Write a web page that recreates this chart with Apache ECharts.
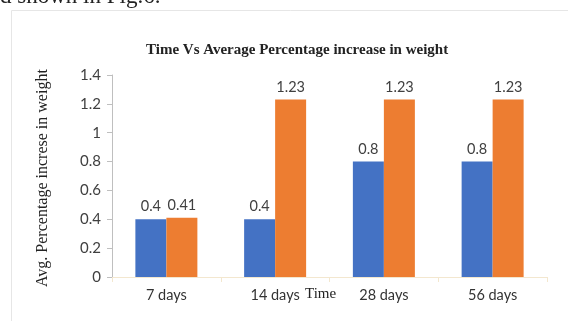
<!DOCTYPE html>
<html>
<head>
<meta charset="utf-8">
<script src="https://cdn.jsdelivr.net/npm/echarts@6/dist/echarts.min.js"></script>
<style>
  html, body { margin: 0; padding: 0; background: #fff; }
  #chart { width: 568px; height: 321px; }
</style>
</head>
<body>
<div id="chart"></div>
<script>
// Weight gain over time, two groups per time point
const categories = ['7 days', '14 days', '28 days', '56 days'];
const seriesA = [0.4, 0.4, 0.8, 0.8];
const seriesB = [0.41, 1.23, 1.23, 1.23];
const yTicks = { min: 0, max: 1.4, interval: 0.2 };

const labelFont = 'Lato, "Open Sans", sans-serif';
const serif = '"Liberation Serif", "DejaVu Serif", serif';

const chart = echarts.init(document.getElementById('chart'));
chart.setOption({
  animation: false,
  backgroundColor: '#ffffff',
  grid: { left: 112, right: 21, top: 75, bottom: 44 },
  graphic: [
    {
      type: 'rect', left: 9, top: 8,
      shape: { width: 570, height: 320 },
      style: { fill: 'none', stroke: '#e6e6e6', lineWidth: 1 }
    },
    {
      type: 'text', left: 0, top: -15,
      style: { text: 'd shown in Fig.6.', font: '23px ' + serif, fill: '#222' }
    },
    {
      type: 'text', left: 146, top: 43,
      style: { text: 'Time Vs Average Percentage increase in weight', font: 'bold 15px ' + serif, fill: '#222' }
    },
    {
      type: 'text', left: 305, top: 287,
      style: { text: 'Time', font: '15px ' + serif, fill: '#222' }
    },
    {
      type: 'text', x: 35, y: 287, rotation: Math.PI / 2,
      style: { text: 'Avg. Percentage increse in weight', font: '16px ' + serif, fill: '#222' }
    }
  ],
  xAxis: {
    type: 'category',
    data: categories,
    axisLine: { lineStyle: { color: '#f3e7cf', width: 1 } },
    axisTick: { show: true, length: 5, lineStyle: { color: '#f3e7cf' } },
    axisLabel: { color: '#333', fontSize: 14.5, fontFamily: labelFont, margin: 11 }
  },
  yAxis: {
    type: 'value',
    min: yTicks.min, max: yTicks.max, interval: yTicks.interval,
    axisLine: { show: true, lineStyle: { color: '#bfbfbf' } },
    axisTick: { show: true, length: 5, lineStyle: { color: '#bfbfbf' } },
    splitLine: { show: false },
    axisLabel: { color: '#404040', fontSize: 15, fontFamily: labelFont, margin: 11 }
  },
  series: [
    {
      type: 'bar', data: seriesA, barWidth: 31, barGap: '0%',
      itemStyle: { color: '#4472c4' },
      label: { show: true, position: 'top', distance: 5, color: '#404040', fontSize: 14.5, fontFamily: labelFont }
    },
    {
      type: 'bar', data: seriesB, barWidth: 31,
      itemStyle: { color: '#ed7d31' },
      label: { show: true, position: 'top', distance: 5, color: '#404040', fontSize: 14.5, fontFamily: labelFont }
    }
  ]
});
</script>
</body>
</html>
